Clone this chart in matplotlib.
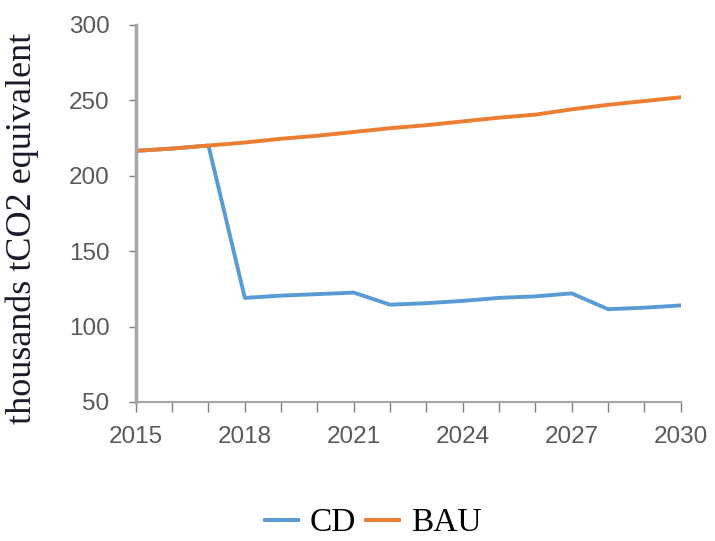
import matplotlib
matplotlib.use('Agg')
import matplotlib.pyplot as plt
from matplotlib.ticker import FixedLocator, MultipleLocator

# emissions, thousands tCO2 equivalent
years = list(range(2015, 2031))
bau = [216.5, 218, 220, 222, 224.5, 226.5, 229, 231.5, 233.5, 236, 238.5, 240.5, 244, 247, 249.5, 252]
cd = [216.5, 218, 220, 119, 120.5, 121.5, 122.5, 114.5, 115.5, 117, 119, 120, 122, 111.5, 112.5, 114]
xticks = years[::3]

tick_font = ['Liberation Sans', 'DejaVu Sans']
serif_font = ['Liberation Serif', 'DejaVu Serif']
gray = '#a6a6a6'

fig = plt.figure(figsize=(7.15, 5.41), dpi=100)
ax = fig.add_axes([0.190, 0.257, 0.762, 0.697])

ax.plot(years, cd, color='#5B9BD5', lw=2.8, label='CD')
ax.plot(years, bau, color='#ED7D31', lw=2.8, label='BAU')

ax.set_xlim(2015, 2030)
ax.set_ylim(50, 300)
ax.xaxis.set_major_locator(FixedLocator(xticks))
ax.xaxis.set_minor_locator(MultipleLocator(1))
ax.yaxis.set_major_locator(MultipleLocator(50))

for s in ['top', 'right']:
    ax.spines[s].set_visible(False)
ax.spines['left'].set_color(gray)
ax.spines['left'].set_linewidth(2.5)
ax.spines['bottom'].set_color(gray)
ax.spines['bottom'].set_linewidth(1.5)

ax.tick_params(axis='both', which='both', direction='out', color='#7f7f7f', length=5, width=1)
ax.tick_params(axis='x', which='both', length=7, pad=10)
ax.tick_params(axis='y', pad=14)
for lab in ax.get_xticklabels() + ax.get_yticklabels():
    lab.set_family(tick_font)
    lab.set_fontsize(17.5)
    lab.set_color('#595959')

ax.set_ylabel('thousands tCO2 equivalent', family=serif_font, fontsize=26, color='#1a1a2a')
ax.yaxis.set_label_coords(-0.178, 0.46)

fig.legend(loc='center', bbox_to_anchor=(373 / 715, 18 / 541), ncol=2, frameon=False,
           prop={'family': serif_font, 'size': 24}, handlelength=1.0, handletextpad=0.35,
           columnspacing=0.3)

fig.savefig('out.png', dpi=100)
